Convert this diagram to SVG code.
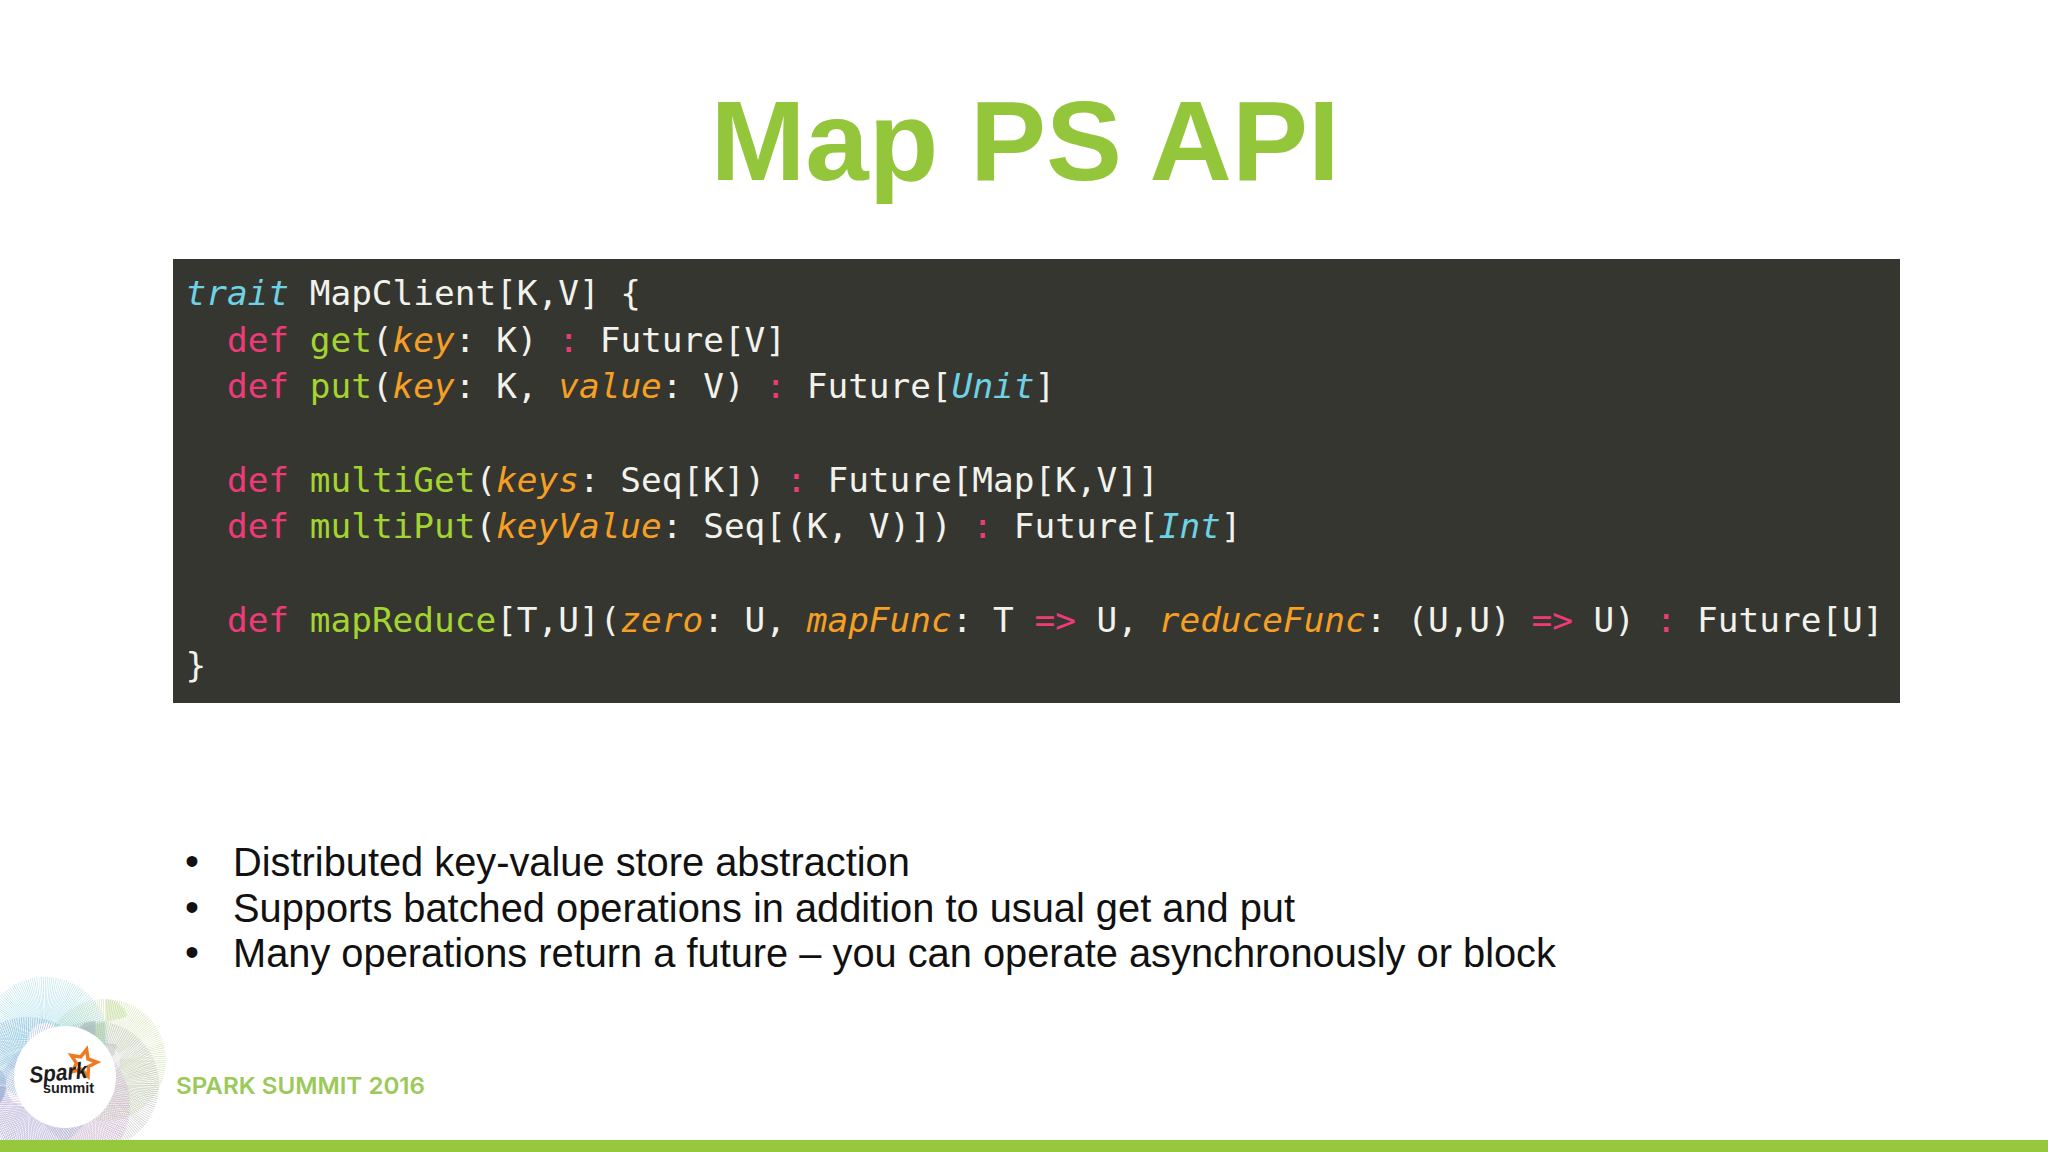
<svg xmlns="http://www.w3.org/2000/svg" width="2048" height="1152" viewBox="0 0 2048 1152">
<style>
.code{font-family:"DejaVu Sans Mono",monospace;font-size:34.4px;fill:#f2f2ec;white-space:pre}
.k{fill:#ee3b78}.f{fill:#a3d42f}.p{fill:#f59f24;font-style:italic}.t{fill:#6ed2e4;font-style:italic}
.b{font-family:"Liberation Sans",Arial,sans-serif;font-size:39.8px;fill:#111}
.s{fill:none;stroke-dasharray:.3 .7;opacity:.75}
</style>
<defs>
<radialGradient id="gb" gradientUnits="userSpaceOnUse" cx="45" cy="1050" r="70"><stop offset=".3" stop-color="#3fb6d6"/><stop offset="1" stop-color="#a5dbe3"/></radialGradient>
<clipPath id="cl"><rect x="0" y="960" width="200" height="180"/></clipPath>
</defs>
<rect width="2048" height="1152" fill="#fff"/>
<text id="title" x="1025" y="180" text-anchor="middle" font-family="Liberation Sans, Arial, sans-serif" font-weight="700" font-size="114" fill="#93c63b">Map PS API</text>
<g id="code">
<rect x="173" y="259" width="1727" height="444" fill="#363631"/>
<text class="code" x="185.500" y="305"><tspan class="t">trait</tspan> MapClient[K,V] {</text>
<text class="code" x="185.500" y="351.500">  <tspan class="k">def</tspan> <tspan class="f">get</tspan>(<tspan class="p">key</tspan>: K) <tspan class="k">:</tspan> Future[V]</text>
<text class="code" x="185.500" y="398">  <tspan class="k">def</tspan> <tspan class="f">put</tspan>(<tspan class="p">key</tspan>: K, <tspan class="p">value</tspan>: V) <tspan class="k">:</tspan> Future[<tspan class="t">Unit</tspan>]</text>
<text class="code" x="185.500" y="491.500">  <tspan class="k">def</tspan> <tspan class="f">multiGet</tspan>(<tspan class="p">keys</tspan>: Seq[K]) <tspan class="k">:</tspan> Future[Map[K,V]]</text>
<text class="code" x="185.500" y="538">  <tspan class="k">def</tspan> <tspan class="f">multiPut</tspan>(<tspan class="p">keyValue</tspan>: Seq[(K, V)]) <tspan class="k">:</tspan> Future[<tspan class="t">Int</tspan>]</text>
<text class="code" x="185.500" y="632">  <tspan class="k">def</tspan> <tspan class="f">mapReduce</tspan>[T,U](<tspan class="p">zero</tspan>: U, <tspan class="p">mapFunc</tspan>: T <tspan class="k">=&gt;</tspan> U, <tspan class="p">reduceFunc</tspan>: (U,U) <tspan class="k">=&gt;</tspan> U) <tspan class="k">:</tspan> Future[U]</text>
<text class="code" x="185.500" y="677">}</text>
</g>
<g id="bullets">
<text class="b" x="185" y="875">•</text><text class="b" x="233" y="876">Distributed key-value store abstraction</text>
<text class="b" x="185" y="921">•</text><text class="b" x="233" y="922">Supports batched operations in addition to usual get and put</text>
<text class="b" x="185" y="966">•</text><text class="b" x="233" y="967">Many operations return a future – you can operate asynchronously or block</text>
</g>
<g id="logo">
<g clip-path="url(#cl)">
<circle class="s" pathLength="180" cx="105" cy="1060" r="38" stroke="#c3d99a" stroke-width="46"/>
<circle class="s" pathLength="180" cx="95" cy="1085" r="42" stroke="#b5b5b5" stroke-width="44"/>
<circle class="s" pathLength="180" cx="62" cy="1105" r="45" stroke="#cf9fd6" stroke-width="46"/>
<circle class="s" pathLength="180" cx="28" cy="1085" r="45" stroke="#8fa6cf" stroke-width="46"/>
<circle class="s" pathLength="180" cx="45" cy="1040" r="40" stroke="url(#gb)" stroke-width="46"/>
</g>
<circle cx="65" cy="1077" r="51" fill="#fff"/>
<path d="M86.600 1049.500L88 1058.900 97 1062.300 88.500 1066.500 88 1076.100 81.300 1069.300 72.100 1071.800 76.500 1063.300 71.300 1055.400 80.700 1056.900z" fill="#fff" stroke="#ee7a22" stroke-width="3.500"/>
<text x="30" y="1083" font-family="Liberation Sans, Arial, sans-serif" font-weight="700" font-style="italic" font-size="23" fill="#1c1c1c" transform="rotate(-5 30 1083)" textLength="58" lengthAdjust="spacingAndGlyphs">Spark</text>
<text x="43" y="1093" font-family="Liberation Sans, Arial, sans-serif" font-weight="700" font-size="14" fill="#1c1c1c" textLength="51" lengthAdjust="spacingAndGlyphs">summit</text>
<text x="176" y="1094" font-family="Inter, sans-serif" font-weight="600" font-size="23" fill="#9bc95a" textLength="249" lengthAdjust="spacingAndGlyphs">SPARK SUMMIT 2016</text>
</g>
<rect id="bar" x="0" y="1140" width="2048" height="12" fill="#95c83d"/>
</svg>
